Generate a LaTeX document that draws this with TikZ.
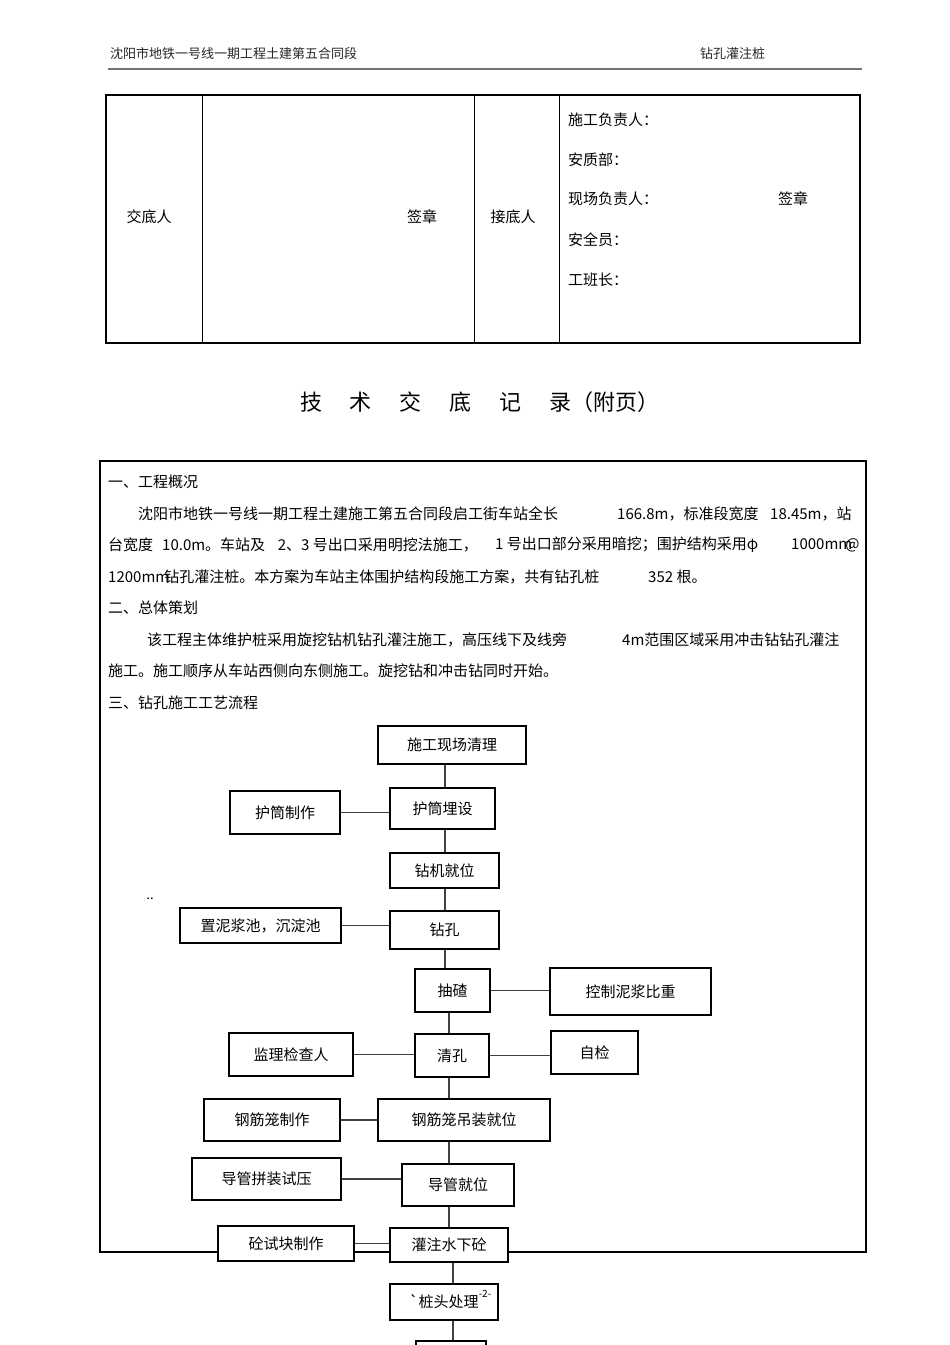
\documentclass[tikz,border=0pt]{standalone}
\usepackage{fontspec}
\setmainfont{Noto Sans CJK SC}
\usetikzlibrary{positioning}
\tikzset{stepbox/.style = {draw, fill=white, line width=1.1pt, inner sep=0, font=\fontsize{15}{18}\selectfont}}
\tikzset{link/.style = {line width=1.3pt, black!75}}
\tikzset{body/.style = {anchor=west, inner sep=0, font=\fontsize{15}{18}\selectfont}}
\tikzset{head/.style = {anchor=west, inner sep=0, font=\fontsize{13}{15}\selectfont, black!85}}

\begin{document}
\begin{tikzpicture}[x=1pt, y=-1pt]
      \useasboundingbox (0,0) rectangle (950,1345);
      \clip (0,0) rectangle (950,1345);
      % page head
      \node[head] (proj) at (110,54) {沈阳市地铁一号线一期工程土建第五合同段};
      \node[head] (topic) at (700,54) {钻孔灌注桩};
      \draw[line width=1.5pt, black!55] (108,69) -- (862,69);
      % sign table
      \draw[line width=2pt] (106,95) rectangle (860,343);
      \foreach \x in {202,474,559} \draw[line width=0.8pt] (\x,95) -- (\x,343);
      \node[body, anchor=center] (giver) at (149,217) {交底人};
      \node[body, anchor=center] (seala) at (422,217) {签章};
      \node[body, anchor=center] (taker) at (513,217) {接底人};
      \node[body] (chief) at (568,120) {施工负责人：};
      \node[body] (safety) at (568,160) {安质部：};
      \node[body] (site) at (568,199) {现场负责人：};
      \node[body, anchor=center] (sealb) at (793,199) {签章};
      \node[body] (guard) at (568,240) {安全员：};
      \node[body] (crew) at (568,280) {工班长：};
      % title
      \node[inner sep=0, font=\fontsize{22}{26}\selectfont] (title) at (480,402)
        {技\hspace{28pt}术\hspace{28pt}交\hspace{28pt}底\hspace{28pt}记\hspace{28pt}录（附页）};
      % text frame
      \draw[line width=2pt] (100,461) rectangle (866,1252);
      \node[body] (sec1) at (108,482) {一、工程概况};
      \node[body] (l1a) at (138,513.5) {沈阳市地铁一号线一期工程土建施工第五合同段启工街车站全长};
      \node[body] (l1b) at (617,513.5) {166.8m，标准段宽度};
      \node[body] (l1c) at (770,513.5) {18.45m，站};
      \node[body] (l2a) at (108,545) {台宽度};
      \node[body] (l2b) at (162,545) {10.0m。车站及};
      \node[body, anchor=east] (l2c) at (478,545) {2、3 号出口采用明挖法施工，};
      \node[body] (l2d) at (495,545) {1 号出口部分采用暗挖；围护结构采用φ};
      \node[body] (l2e) at (791,545) {1000mm\kern-7pt@};
      \node[body] (l3a) at (108,576.5) {1200mm\kern-5pt钻孔灌注桩。本方案为车站主体围护结构段施工方案，共有钻孔桩};
      \node[body] (l3b) at (648,576.5) {352 根。};
      \node[body] (sec2) at (108,608) {二、总体策划};
      \node[body] (l4a) at (147,639.5) {该工程主体维护桩采用旋挖钻机钻孔灌注施工，高压线下及线旁};
      \node[body] (l4b) at (622,639.5) {4m范围区域采用冲击钻钻孔灌注};
      \node[body] (l5a) at (108,671) {施工。施工顺序从车站西侧向东侧施工。旋挖钻和冲击钻同时开始。};
      \node[body] (sec3) at (108,702.5) {三、钻孔施工工艺流程};
      \node[inner sep=0, font=\fontsize{13}{15}\selectfont] (dots) at (150,899) {..};
      % flow chart
      \node[stepbox, minimum width=148pt, minimum height=38pt] (clean) at (452,745) {施工现场清理};
      \node[stepbox, minimum width=110pt, minimum height=43pt] (tubemake) at (285,812.5) {护筒制作};
      \node[stepbox, minimum width=105pt, minimum height=41pt] (tubeset) at (442.5,808.5) {护筒埋设};
      \node[stepbox, minimum width=109pt, minimum height=35pt] (rigpos) at (444.5,870.5) {钻机就位};
      \node[stepbox, minimum width=161pt, minimum height=35pt] (pool) at (260.5,925.5) {置泥浆池，沉淀池};
      \node[stepbox, minimum width=109pt, minimum height=38pt] (drill) at (444.5,930) {钻孔};
      \node[stepbox, minimum width=75pt, minimum height=43pt] (slag) at (452.5,990.5) {抽碴};
      \node[stepbox, minimum width=161pt, minimum height=47pt] (density) at (630.5,991.5) {控制泥浆比重};
      \node[stepbox, minimum width=124pt, minimum height=43pt] (supervise) at (291,1054.5) {监理检查人};
      \node[stepbox, minimum width=74pt, minimum height=43pt] (clearhole) at (452,1055.5) {清孔};
      \node[stepbox, minimum width=87pt, minimum height=43pt] (selfcheck) at (594.5,1052.5) {自检};
      \node[stepbox, minimum width=136pt, minimum height=42pt] (cagemake) at (272,1120) {钢筋笼制作};
      \node[stepbox, minimum width=172pt, minimum height=42pt] (cageset) at (464,1120) {钢筋笼吊装就位};
      \node[stepbox, minimum width=149pt, minimum height=42pt] (pipetest) at (266.5,1179) {导管拼装试压};
      \node[stepbox, minimum width=112pt, minimum height=42pt] (pipeset) at (458,1185) {导管就位};
      \node[stepbox, minimum width=136pt, minimum height=35pt] (sample) at (286,1243.5) {砼试块制作};
      \node[stepbox, minimum width=118pt, minimum height=34pt] (pour) at (449,1245) {灌注水下砼};
      \node[stepbox, minimum width=108pt, minimum height=36pt] (pile) at (444,1302) {\textasciigrave 桩头处理};
      \node[inner sep=0, font=\fontsize{10}{12}\selectfont] (pageno) at (485,1294) {-2-};
      \node[stepbox, minimum width=70pt, minimum height=38pt] (next) at (451,1360) {};
      % main line
      \coordinate (spineA) at (445,0);
      \coordinate (spineB) at (449,0);
      \coordinate (spineC) at (453,0);
      \foreach \a/\b/\s in {clean/tubeset/spineA, tubeset/rigpos/spineA, rigpos/drill/spineA,
          drill/slag/spineA, slag/clearhole/spineB, clearhole/cageset/spineB,
          cageset/pipeset/spineB, pipeset/pour/spineB, pour/pile/spineC, pile/next/spineC}
        \draw[link] (\a.south -| \s) -- (\b.north -| \s);
      % side branches
      \foreach \a/\b in {tubemake/tubeset, pool/drill, supervise/clearhole,
          cagemake/cageset, pipetest/pipeset, sample/pour}
        \draw[link] (\a.east) -- (\a.east -| \b.west);
      \draw[link] (slag.east) -- (slag.east -| density.west);
      \draw[link] (clearhole.east) -- (clearhole.east -| selfcheck.west);
\end{tikzpicture}
\end{document}
